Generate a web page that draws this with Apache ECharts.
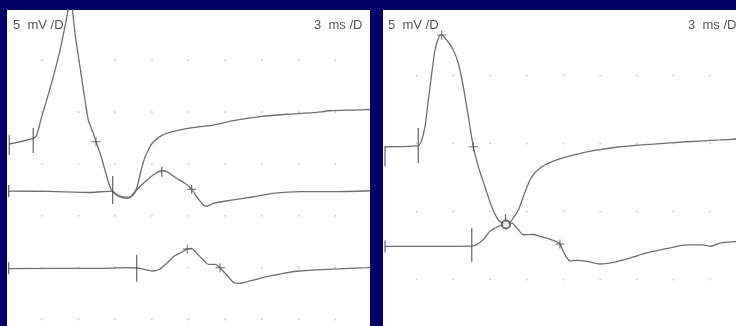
<!DOCTYPE html>
<html>
<head>
<meta charset="utf-8">
<script src="https://cdn.jsdelivr.net/npm/echarts@6/dist/echarts.min.js"></script>
<style>
html,body{margin:0;padding:0;background:#000066;}
#chart{width:736px;height:326px;}
</style>
</head>
<body>
<div id="chart"></div>
<script>
// ---- data (time in ms, amplitude in mV) ----
const gridTimes = [3, 6, 9, 12, 15, 18, 21, 24, 27];
const leftGridVolts = [10, 5, 0, -5, -10, -15];
const rightGridVolts = [10, 5, 0, -5];

const scaleLabels = ['5  mV /D', '3  ms /D'];

const leftTrace1 = [[0.35,1.93],[2.31,2.48],[2.59,2.80],[3.00,4.57],[3.41,6.18],[3.95,8.43],[4.50,11.00],[4.90,13.25],[5.13,14.70],[5.27,15.6],[5.45,15.4],[5.72,12.64],[6.13,9.39],[6.54,6.18],[6.81,4.25],[7.22,2.96],[7.44,2.15],[7.77,1.06],[8.17,-0.58],[8.58,-2.19],[8.85,-2.70],[9.24,-3.09],[9.67,-3.28],[10.08,-3.31],[10.36,-3.09],[10.77,-2.32],[11.17,-0.39],[11.58,1.03],[12.12,2.12],[12.94,2.84],[14.30,3.30],[15.94,3.60],[17.03,3.76],[18.66,4.18],[20.85,4.57],[23.03,4.80],[25.20,4.95],[26.57,5.14],[28.47,5.21],[29.84,5.26]];
const leftTrace2 = [[0.33,-2.61],[3.68,-2.65],[6.95,-2.75],[8.80,-2.61],[9.08,-2.90],[9.40,-3.09],[9.97,-3.19],[10.38,-3.09],[10.77,-2.51],[11.31,-1.86],[12.12,-1.06],[12.81,-0.65],[13.22,-0.74],[14.04,-1.38],[14.71,-1.86],[15.26,-2.44],[15.67,-3.16],[16.21,-3.96],[16.49,-4.08],[17.03,-3.79],[18.66,-3.47],[20.30,-3.16],[21.93,-2.83],[24.11,-2.67],[26.84,-2.67],[29.84,-2.58]];
const leftTrace3 = [[0.33,-10.09],[7.77,-10.07],[9.95,-10.01],[10.77,-10.04],[11.31,-10.14],[12.12,-10.33],[12.67,-10.14],[13.22,-9.59],[13.76,-8.95],[14.44,-8.52],[14.90,-8.20],[15.26,-8.14],[15.67,-8.62],[16.21,-9.27],[16.62,-9.68],[17.17,-9.68],[17.58,-10.01],[18.12,-10.71],[18.66,-11.42],[19.07,-11.52],[20.03,-11.29],[21.39,-10.88],[22.75,-10.55],[24.11,-10.33],[26.84,-10.14],[29.57,-10.01],[29.84,-9.99]];

const rightTrace1 = [[0.41,4.76],[3.13,4.84],[3.41,5.26],[3.68,6.24],[3.95,8.20],[4.23,10.16],[4.50,11.88],[4.82,12.85],[5.04,12.98],[5.45,12.61],[5.99,11.88],[6.40,10.90],[6.81,9.18],[7.22,6.97],[7.63,4.76],[8.04,3.29],[8.58,1.82],[9.13,0.35],[9.67,-0.63],[10.08,-0.88],[10.36,-0.96],[10.77,-0.63],[11.31,0.11],[11.85,1.43],[12.40,2.54],[13.22,3.29],[14.44,3.79],[15.80,4.15],[17.44,4.47],[19.62,4.76],[22.34,4.96],[25.07,5.13],[27.79,5.26],[29.10,5.33]];
const rightTrace2 = [[0.41,-2.57],[7.50,-2.54],[7.90,-2.44],[8.44,-2.07],[8.99,-1.46],[9.67,-1.09],[10.22,-0.92],[10.77,-0.85],[11.31,-1.34],[11.71,-1.71],[12.53,-1.69],[13.08,-1.82],[14.17,-2.13],[14.71,-2.39],[14.98,-2.93],[15.53,-3.64],[16.08,-3.59],[16.90,-3.66],[17.98,-3.86],[19.07,-3.74],[20.44,-3.42],[21.80,-3.05],[23.71,-2.68],[25.07,-2.46],[26.43,-2.46],[26.98,-2.57],[27.79,-2.32],[29.10,-2.22]];

// cursor marks: [time, mV, bar height px]
const leftBars = [[0.35,1.83,20],[2.31,2.27,25],[0.30,-2.61,12],[8.80,-2.51,28],[12.81,-0.74,10],[0.30,-10.07,12],[10.77,-10.07,27]];
const leftCrosses = [[7.44,2.15],[15.26,-2.44],[14.90,-8.20],[17.58,-10.01]];
const rightBars = [[0.41,4.04,20],[3.13,4.85,35],[0.41,-2.57,12],[7.50,-2.46,34],[10.26,-0.55,10]];
const rightCrosses = [[5.04,12.98],[7.63,4.76],[14.71,-2.39]];
const rightCircles = [[10.30,-0.95]];

// ---- build ----
function gridDots(times, volts){
  const out = [];
  volts.forEach(v => times.forEach(t => out.push([t, v])));
  return out;
}
const traceColor = '#6f6f6f';
const markColor = '#4a4a4a';
const plusPath = 'path://M4,0h1v4h4v1h-4v4h-1v-4h-4v-1h4z';

function panelSeries(idx, traces, bars, crosses, circles, dots){
  const s = [];
  s.push({type:'scatter', xAxisIndex:idx, yAxisIndex:idx, data:dots, symbol:'circle', symbolSize:2.2,
    itemStyle:{color:'#c4c4c4'}, silent:true, z:1});
  traces.forEach(tr => s.push({type:'line', xAxisIndex:idx, yAxisIndex:idx, data:tr, showSymbol:false,
    smooth:0.25, lineStyle:{color:traceColor, width:1.3}, silent:true, z:3}));
  s.push({type:'scatter', xAxisIndex:idx, yAxisIndex:idx, data:bars.map(b=>[b[0],b[1]]), symbol:'rect',
    symbolSize:(val, p)=>[1.3, bars[p.dataIndex][2]], itemStyle:{color:markColor}, silent:true, z:4});
  s.push({type:'scatter', xAxisIndex:idx, yAxisIndex:idx, data:crosses, symbol:plusPath, symbolSize:9,
    itemStyle:{color:markColor}, silent:true, z:4});
  if (circles.length) s.push({type:'scatter', xAxisIndex:idx, yAxisIndex:idx, data:circles, symbol:'emptyCircle',
    symbolSize:8, itemStyle:{color:markColor, borderColor:markColor, borderWidth:1}, silent:true, z:4});
  return s;
}

const chart = echarts.init(document.getElementById('chart'), null, {renderer:'canvas'});
const hiddenAxis = {show:false, splitLine:{show:false}};
chart.setOption({
  backgroundColor:'#000066',
  animation:false,
  grid:[
    {left:7, top:10, width:363, height:316, show:true, backgroundColor:'#ffffff', borderWidth:0},
    {left:383, top:10, width:353, height:316, show:true, backgroundColor:'#ffffff', borderWidth:0}
  ],
  xAxis:[
    Object.assign({type:'value', gridIndex:0, min:0.1635, max:29.837}, hiddenAxis),
    Object.assign({type:'value', gridIndex:1, min:0.2452, max:29.102}, hiddenAxis)
  ],
  yAxis:[
    Object.assign({type:'value', gridIndex:0, min:-15.637, max:14.865}, hiddenAxis),
    Object.assign({type:'value', gridIndex:1, min:-8.419, max:14.816}, hiddenAxis)
  ],
  graphic:[
    {type:'text', left:13, top:19, style:{text:scaleLabels[0], font:'13px "Liberation Sans", Arial, sans-serif', fill:'#555'}},
    {type:'text', left:314, top:19, style:{text:scaleLabels[1], font:'13px "Liberation Sans", Arial, sans-serif', fill:'#555'}},
    {type:'text', left:388, top:19, style:{text:scaleLabels[0], font:'13px "Liberation Sans", Arial, sans-serif', fill:'#555'}},
    {type:'text', left:688, top:19, style:{text:scaleLabels[1], font:'13px "Liberation Sans", Arial, sans-serif', fill:'#555'}}
  ],
  series:[].concat(
    panelSeries(0, [leftTrace1, leftTrace2, leftTrace3], leftBars, leftCrosses, [], gridDots(gridTimes, leftGridVolts)),
    panelSeries(1, [rightTrace1, rightTrace2], rightBars, rightCrosses, rightCircles, gridDots(gridTimes, rightGridVolts))
  )
});
</script>
</body>
</html>
